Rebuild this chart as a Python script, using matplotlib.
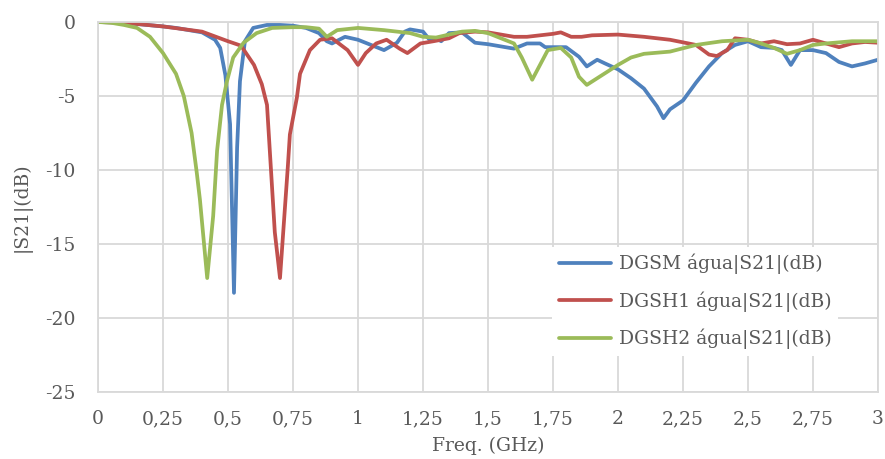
import matplotlib
matplotlib.use("Agg")
import matplotlib.pyplot as plt

# Frequencies (GHz) and |S21| (dB)
f_dgsm = [0, 0.1, 0.25, 0.3, 0.4, 0.45, 0.47, 0.49, 0.508, 0.523, 0.535, 0.546, 0.565, 0.597,
          0.65, 0.7, 0.75, 0.8, 0.85, 0.88, 0.9, 0.95, 1.0, 1.05, 1.1, 1.15, 1.18, 1.2, 1.25,
          1.28, 1.3, 1.32, 1.35, 1.4, 1.45, 1.5, 1.6, 1.65, 1.7, 1.72, 1.8, 1.85, 1.88, 1.92,
          1.95, 2.0, 2.05, 2.1, 2.15, 2.175, 2.2, 2.25, 2.3, 2.35, 2.4, 2.45, 2.5, 2.55, 2.6,
          2.63, 2.665, 2.7, 2.75, 2.8, 2.85, 2.9, 2.95, 3.0]
s_dgsm = [0, -0.05, -0.3, -0.4, -0.7, -1.2, -1.75, -3.6, -6.9, -18.3, -8.5, -4.0, -1.3, -0.4,
          -0.2, -0.2, -0.25, -0.4, -0.75, -1.3, -1.45, -1.0, -1.2, -1.55, -1.9, -1.4, -0.65, -0.5, -0.65,
          -1.3, -1.1, -1.3, -0.75, -0.7, -1.4, -1.5, -1.8, -1.45, -1.45, -1.7, -1.7, -2.35, -3.0, -2.55,
          -2.8, -3.2, -3.8, -4.5, -5.7, -6.5, -5.9, -5.3, -4.1, -3.0, -2.1, -1.55, -1.3, -1.7, -1.75,
          -1.9, -2.9, -1.9, -1.9, -2.1, -2.7, -3.0, -2.8, -2.55]

f_dgsh1 = [0, 0.1, 0.25, 0.4, 0.5, 0.55, 0.6, 0.63, 0.65, 0.68, 0.7, 0.73, 0.738, 0.765,
           0.777, 0.815, 0.854, 0.9, 0.96, 1.0, 1.03, 1.07, 1.11, 1.16, 1.19, 1.24, 1.29, 1.35,
           1.39, 1.45, 1.5, 1.55, 1.6, 1.65, 1.7, 1.75, 1.78, 1.82, 1.86, 1.9, 2.0, 2.1, 2.2,
           2.3, 2.35, 2.38, 2.42, 2.45, 2.5, 2.55, 2.6, 2.65, 2.7, 2.75, 2.8, 2.85, 2.9, 2.95, 3.0]
s_dgsh1 = [0, -0.05, -0.3, -0.65, -1.3, -1.6, -2.9, -4.2, -5.6, -14.2, -17.3, -9.8, -7.6, -5.1,
           -3.5, -1.9, -1.2, -1.1, -1.9, -2.9, -2.1, -1.45, -1.2, -1.8, -2.1, -1.45, -1.3, -1.1,
           -0.75, -0.65, -0.7, -0.85, -1.0, -1.0, -0.9, -0.8, -0.7, -1.0, -1.0, -0.9, -0.85, -1.0, -1.2,
           -1.55, -2.2, -2.3, -1.9, -1.1, -1.2, -1.45, -1.3, -1.5, -1.45, -1.2, -1.45, -1.7, -1.45, -1.35, -1.4]

f_dgsh2 = [0, 0.05, 0.1, 0.15, 0.2, 0.25, 0.3, 0.33, 0.36, 0.38, 0.392, 0.42, 0.443, 0.458,
           0.477, 0.496, 0.52, 0.56, 0.61, 0.67, 0.75, 0.8, 0.85, 0.88, 0.92, 1.0, 1.1, 1.2,
           1.25, 1.3, 1.35, 1.4, 1.45, 1.5, 1.55, 1.6, 1.63, 1.67, 1.7, 1.73, 1.78, 1.82, 1.85,
           1.88, 1.92, 2.0, 2.05, 2.1, 2.2, 2.3, 2.4, 2.5, 2.55, 2.6, 2.65, 2.7, 2.75, 2.8, 2.9, 3.0]
s_dgsh2 = [0, -0.05, -0.2, -0.4, -1.0, -2.1, -3.5, -5.0, -7.5, -10.2, -12.0, -17.3, -13.1, -8.7,
           -5.6, -4.0, -2.4, -1.4, -0.75, -0.4, -0.35, -0.35, -0.45, -1.0, -0.55, -0.4, -0.55, -0.75,
           -1.0, -1.05, -0.85, -0.65, -0.6, -0.75, -1.1, -1.45, -2.4, -3.9, -2.9, -1.9, -1.75, -2.4, -3.7,
           -4.25, -3.8, -2.9, -2.4, -2.15, -2.0, -1.55, -1.3, -1.2, -1.45, -1.75, -2.15, -1.9, -1.55, -1.45, -1.3, -1.3]

labels = ["DGSM água|S21|(dB)", "DGSH1 água|S21|(dB)", "DGSH2 água|S21|(dB)"]
colors = ["#4F81BD", "#C0504D", "#9BBB59"]
xticks = [0, 0.25, 0.5, 0.75, 1, 1.25, 1.5, 1.75, 2, 2.25, 2.5, 2.75, 3]
xticklabels = ["0", "0,25", "0,5", "0,75", "1", "1,25", "1,5", "1,75", "2", "2,25", "2,5", "2,75", "3"]
yticks = [0, -5, -10, -15, -20, -25]

plt.rcParams['font.family'] = ['DejaVu Serif']
plt.rcParams['axes.unicode_minus'] = False
txt = "#595959"
fs = 13.5

fig = plt.figure(figsize=(8.85, 4.59), dpi=100)
ax = fig.add_axes([98/885, 1-392/459, (878-98)/885, (392-22)/459])

for fx, sy, lab, c in zip([f_dgsm, f_dgsh1, f_dgsh2], [s_dgsm, s_dgsh1, s_dgsh2], labels, colors):
    ax.plot(fx, sy, color=c, lw=2.7, label=lab, solid_capstyle='round', solid_joinstyle='round')

ax.set_xlim(0, 3)
ax.set_ylim(-25, 0)
ax.set_xticks(xticks)
ax.set_xticklabels(xticklabels)
ax.set_yticks(yticks)
ax.grid(True, color="#D9D9D9", lw=1.3)
ax.set_axisbelow(True)
for s in ax.spines.values():
    s.set_color("#D9D9D9")
    s.set_linewidth(1.3)
ax.tick_params(length=0, labelsize=fs, colors=txt)
ax.tick_params(axis='x', pad=13)
ax.tick_params(axis='y', pad=16)
ax.set_xlabel("Freq. (GHz)", fontsize=fs, color=txt, labelpad=6)
ax.set_ylabel("|S21|(dB)", fontsize=fs, color=txt, labelpad=10)

leg = ax.legend(loc='upper left', bbox_to_anchor=(543/885, 1-238/459), bbox_transform=fig.transFigure,
                fontsize=fs, frameon=True, framealpha=1, edgecolor='none', facecolor='white',
                handlelength=2.8, handletextpad=0.4, labelspacing=0.9, borderpad=0.35, labelcolor=txt,
                fancybox=False)
leg.get_frame().set_linewidth(0)

fig.savefig("out.png", dpi=100, facecolor='white')
